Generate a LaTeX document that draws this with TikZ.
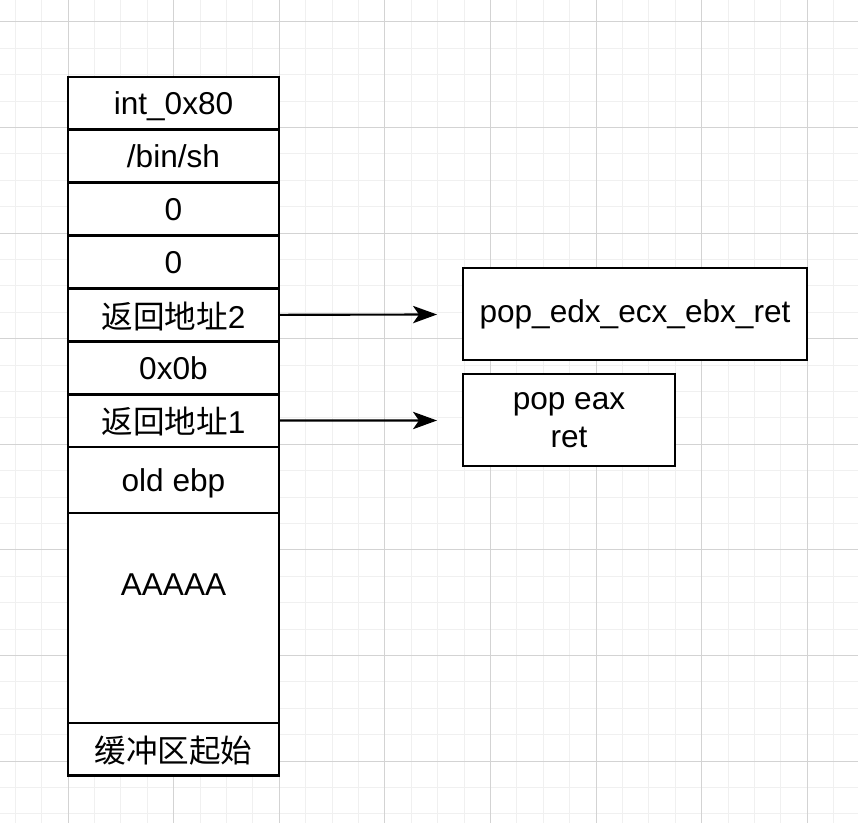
\documentclass[tikz,border=0pt]{standalone}
\usepackage{fontspec}
\setmainfont{Liberation Sans}
\newfontfamily\cjk{Noto Sans CJK SC}
\usepackage{xcolor}
\definecolor{gridminor}{HTML}{F0F0F0}
\definecolor{gridmajor}{HTML}{D3D3D3}
\usepackage{tikz}
\usetikzlibrary{positioning,arrows.meta}

\tikzset{
  cell/.style={draw, line width=2.2pt, fill=white, minimum width=158.25pt,
               minimum height=39.64pt, inner sep=0pt, outer sep=0pt, text depth=0pt,
               font=\fontsize{23.7}{28}\selectfont},
  gadget/.style={draw, line width=2.2pt, fill=white, inner sep=0pt, outer sep=0pt,
                 minimum height=69pt, align=center,
                 font=\fontsize{23.7}{28.5}\selectfont},
  ptr/.style={line width=1.6pt, -{Stealth[length=18pt, width=13pt, inset=4.5pt]}}
}

\begin{document}
\begin{tikzpicture}[x=0.75pt, y=-0.75pt]
    \useasboundingbox (0,0) rectangle (858,823);
    \fill[white] (0,0) rectangle (858,823);
    % grid
    \foreach \k in {-2,...,29} {
      \draw[gridminor, line width=0.75pt] ({68+26.4*\k},0) -- ({68+26.4*\k},823);
    }
    \foreach \k in {0,...,30} {
      \draw[gridminor, line width=0.75pt] (0,{22+26.4*\k}) -- (858,{22+26.4*\k});
    }
    \foreach \k in {0,...,7} {
      \draw[gridmajor, line width=0.75pt] ({68+105.6*\k},0) -- ({68+105.6*\k},823);
      \draw[gridmajor, line width=0.75pt] (0,{22+105.6*\k}) -- (858,{22+105.6*\k});
    }
    % stack
    \node[cell, anchor=north] (int) at (173.5,77) {int\_0x80};
    \node[cell, below=0pt of int] (binsh) {/bin/sh};
    \node[cell, below=0pt of binsh] (zeroa) {0};
    \node[cell, below=0pt of zeroa] (zerob) {0};
    \node[cell, below=0pt of zerob] (ret2) {{\cjk 返回地址}2};
    \node[cell, below=0pt of ret2] (sysno) {0x0b};
    \node[cell, below=0pt of sysno] (ret1) {{\cjk 返回地址}1};
    \node[cell, below=0pt of ret1, minimum height=49.5pt] (ebp) {old ebp};
    \node[cell, below=0pt of ebp, minimum height=157.5pt] (buf) {};
    \node[cell, below=0pt of buf] (start) {\cjk 缓冲区起始};
    \node[font=\fontsize{23.7}{28}\selectfont, text depth=0pt] (pad) at ([yshift=-54pt]buf.north) {AAAAA};
    % gadgets
    \node[gadget, minimum width=258pt, anchor=north west] (popthree) at (463,268) {pop\_edx\_ecx\_ebx\_ret};
    \node[gadget, minimum width=159pt, anchor=north west] (popeax) at (463,374) {pop eax\\ret};
    \coordinate (tiptwo) at (437,314.5);
    \coordinate (tipone) at (437,420.5);
    \draw[ptr] (ret2.east) -- (tiptwo);
    \draw[ptr] (ret1.east) -- (tipone);
  \end{tikzpicture}
\end{document}
